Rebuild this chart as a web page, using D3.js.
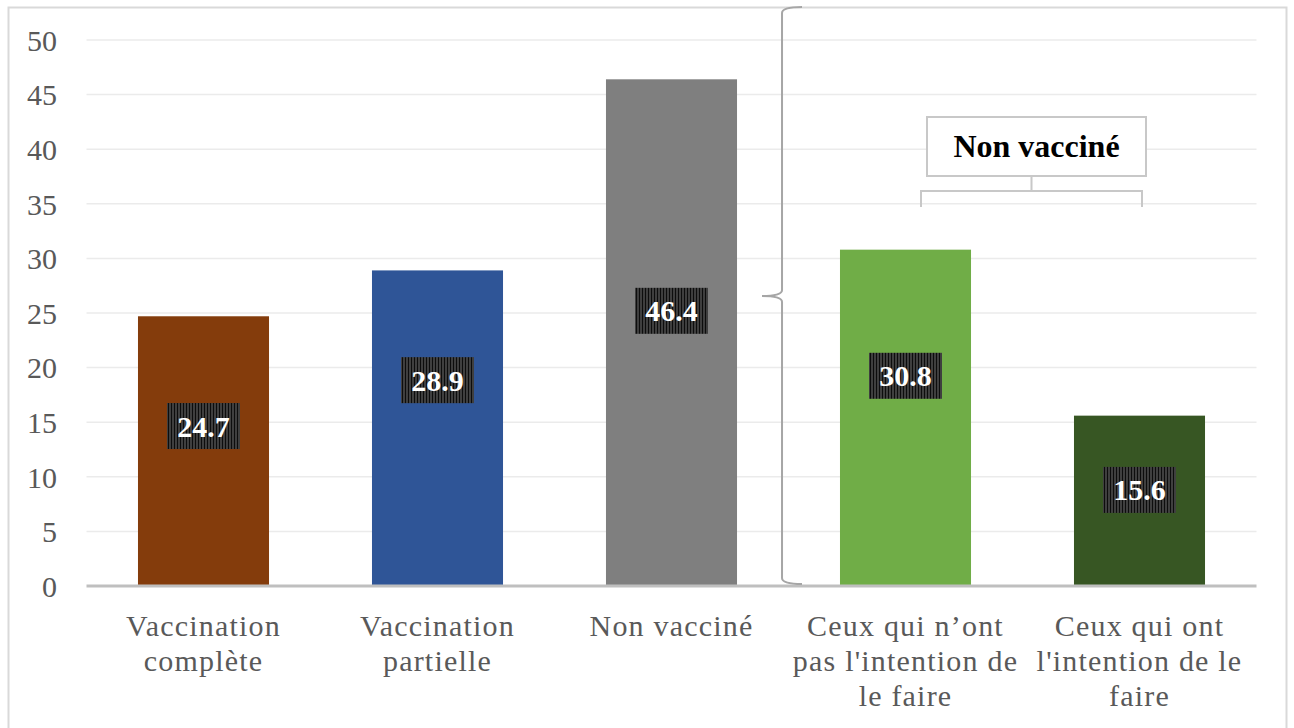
<!DOCTYPE html>
<html>
<head>
<meta charset="utf-8">
<script src="https://cdn.jsdelivr.net/npm/d3@7"></script>
<style>
  body { margin: 0; background: #fff; }
  svg text { font-family: "Liberation Serif", "Times New Roman", Tinos, "DejaVu Serif", serif !important; }
</style>
</head>
<body>
<script>
const WIDTH = 1294;
const HEIGHT = 728;
const LEFT = 86.5, RIGHT = 1256.5, TOP = 40, BOTTOM = 586;
const SERIF = '"Liberation Serif", "Times New Roman", Tinos, "DejaVu Serif", serif';

// data
const categories = [
	["Vaccination", "complète"],
	["Vaccination", "partielle"],
	["Non vacciné"],
	["Ceux qui n’ont", "pas l'intention de", "le faire"],
	["Ceux qui ont", "l'intention de le", "faire"]
];
const values = [24.7, 28.9, 46.4, 30.8, 15.6];
const barColors = ["#843c0c", "#2f5597", "#7f7f7f", "#70ad47", "#375623"];
// where each value label sits, in axis units
const labelAt = [14.65, 18.85, 25.2, 19.25, 8.8];
const yTicks = [0, 5, 10, 15, 20, 25, 30, 35, 40, 45, 50];
const groupTitle = "Non vacciné";

var drawChart = function(){
	var svg = d3.select('body')
		.append('svg')
		.attr('width', WIDTH)
		.attr('height', HEIGHT)
		.attr('font-family', SERIF);

	var defs = svg.append('defs');
	var pat = defs.append('pattern')
		.attr('id', 'stripes')
		.attr('patternUnits', 'userSpaceOnUse')
		.attr('width', 3).attr('height', 10);
	pat.append('rect').attr('width', 3).attr('height', 10).attr('fill', '#0d0d0d');
	pat.append('rect').attr('x', 2).attr('width', 1).attr('height', 10).attr('fill', '#707070');

	// outer frame
	svg.append('rect')
		.attr('x', 8.5).attr('y', 7.5)
		.attr('width', 1278).attr('height', 740)
		.attr('fill', 'none')
		.attr('stroke', '#d9d9d9')
		.attr('stroke-width', 2);

	var idx = d3.range(values.length);
	var xScale = d3.scaleBand().domain(idx).range([LEFT, RIGHT])
		.paddingInner(0.44).paddingOuter(0.22);
	var yScale = d3.scaleLinear().domain([0, 50]).range([BOTTOM, TOP]);

	// grid
	svg.append('g').selectAll('line')
		.data(yTicks.filter(function(d){ return d > 0; }))
		.enter().append('line')
		.attr('x1', LEFT).attr('x2', RIGHT)
		.attr('y1', function(d){ return yScale(d); })
		.attr('y2', function(d){ return yScale(d); })
		.attr('stroke', '#ebebeb')
		.attr('stroke-width', 1.5);

	// y axis
	var yAxis = d3.axisLeft(yScale).tickValues(yTicks).tickSize(0).tickPadding(0);
	var yg = svg.append('g')
		.attr('transform', 'translate(57,0)')
		.call(yAxis)
		.attr('font-family', SERIF)
		.attr('font-size', 30);
	yg.select('.domain').remove();
	yg.selectAll('text')
		.attr('fill', '#595959')
		.attr('dy', '0.34em');

	// bars
	svg.append('g').selectAll('rect')
		.data(idx)
		.enter().append('rect')
		.attr('x', function(i){ return xScale(i); })
		.attr('y', function(i){ return yScale(values[i]); })
		.attr('width', xScale.bandwidth())
		.attr('height', function(i){ return yScale(0) - yScale(values[i]); })
		.attr('fill', function(i){ return barColors[i]; });

	// baseline
	svg.append('line')
		.attr('x1', LEFT).attr('x2', RIGHT)
		.attr('y1', yScale(0)).attr('y2', yScale(0))
		.attr('stroke', '#bfbfbf')
		.attr('stroke-width', 3);

	// value labels
	var lab = svg.append('g').selectAll('g')
		.data(idx)
		.enter().append('g')
		.attr('transform', function(i){
			return 'translate(' + (xScale(i) + xScale.bandwidth()/2) + ',' + yScale(labelAt[i]) + ')';
		});
	lab.append('rect')
		.attr('x', -36.5).attr('y', -23)
		.attr('width', 73).attr('height', 46)
		.attr('fill', 'url(#stripes)');
	lab.append('text')
		.attr('text-anchor', 'middle')
		.attr('y', 10.5)
		.attr('font-size', 30)
		.attr('font-weight', 'bold')
		.attr('fill', '#fff')
		.text(function(i){ return values[i].toFixed(1); });

	// category labels
	var cat = svg.append('g').selectAll('text')
		.data(idx)
		.enter().append('text')
		.attr('text-anchor', 'middle')
		.attr('font-size', 30)
		.attr('letter-spacing', 1.2)
		.attr('fill', '#595959');
	cat.selectAll('tspan')
		.data(function(i){ return categories[i].map(function(s){ return {s: s, i: i}; }); })
		.enter().append('tspan')
		.attr('x', function(d){ return xScale(d.i) + xScale.bandwidth()/2; })
		.attr('y', function(d, k){ return 636 + k*35; })
		.text(function(d){ return d.s; });

	// brace between groups
	var bx = xScale(2) + xScale.bandwidth() + 45;
	var yTop = 7, yBot = 584, yMid = 296;
	var brace = 'M' + (bx+20) + ',' + yTop +
		' Q' + bx + ',' + yTop + ' ' + bx + ',' + (yTop+6) +
		' L' + bx + ',' + (yMid-6) +
		' Q' + bx + ',' + yMid + ' ' + (bx-20) + ',' + yMid +
		' Q' + bx + ',' + yMid + ' ' + bx + ',' + (yMid+6) +
		' L' + bx + ',' + (yBot-6) +
		' Q' + bx + ',' + yBot + ' ' + (bx+20) + ',' + yBot;
	svg.append('path')
		.attr('d', brace)
		.attr('fill', 'none')
		.attr('stroke', '#a6a6a6')
		.attr('stroke-width', 2);

	// group bracket and title box
	var c4 = xScale(3) + xScale.bandwidth()/2;
	var c5 = xScale(4) + xScale.bandwidth()/2;
	var bl = c4 + 15.5, br = c5 + 2.5, bm = (bl + br)/2;
	var ann = svg.append('g')
		.attr('fill', 'none')
		.attr('stroke', '#c8c8c8')
		.attr('stroke-width', 2);
	ann.append('path')
		.attr('d', 'M' + bl + ',207 L' + bl + ',191 L' + br + ',191 L' + br + ',207 M' + bm + ',191 L' + bm + ',176');
	ann.append('rect')
		.attr('x', 927).attr('y', 117)
		.attr('width', 219).attr('height', 59)
		.attr('fill', '#fff');
	svg.append('text')
		.attr('x', 1036.5).attr('y', 157)
		.attr('text-anchor', 'middle')
		.attr('font-size', 32)
		.attr('font-weight', 'bold')
		.attr('fill', '#000')
		.text(groupTitle);
}

window.onload = function(){
	drawChart();
}
</script>
</body>
</html>
